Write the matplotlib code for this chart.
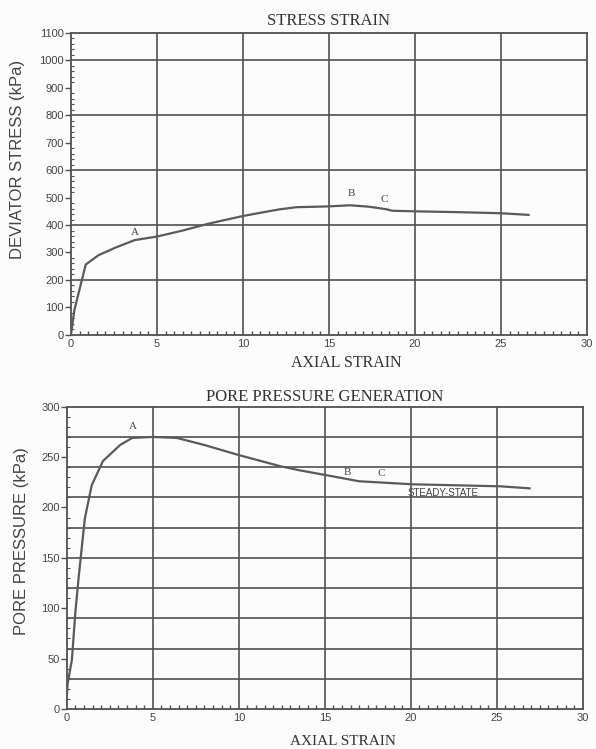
import matplotlib
matplotlib.use("Agg")
import matplotlib.pyplot as plt
from matplotlib.ticker import MultipleLocator

# Stress-strain data
strain_s = [0, 0.2, 0.86, 1.6, 2.6, 3.7, 5.0, 6.5, 8.0, 10.0, 12.1, 13.1, 15.0, 16.2, 17.3, 18.3, 18.7, 20.0, 22.5, 25.0, 26.6]
stress = [0, 90, 256, 290, 318, 345, 358, 380, 405, 433, 457, 465, 468, 472, 467, 458, 452, 450, 447, 443, 437]
labels_s = ["A", "B", "C"]
label_s_x = [3.7, 16.3, 18.2]
label_s_y = [356, 497, 478]

# Pore pressure data
strain_p = [0, 0.05, 0.3, 0.5, 0.7, 1.05, 1.45, 2.1, 3.1, 3.8, 5.0, 6.4, 8.0, 10.0, 12.4, 13.5, 15.1, 17.0, 20.1, 25.2, 26.9]
pore = [10, 25, 49, 96, 132, 189, 222, 246, 262, 269, 270, 269, 262, 252, 241, 237, 232, 226, 223, 221, 219]
labels_p = ["A", "B", "C"]
label_p_x = [3.85, 16.3, 18.3]
label_p_y = [276, 230, 229]

serif = "Liberation Serif"
sans = "Liberation Sans"
lc = "#5a5a5a"
gc = "#505050"

fig = plt.figure(figsize=(5.96, 7.49), dpi=100)
fig.patch.set_facecolor("#fcfcfc")

def style(ax):
    ax.set_facecolor("#fcfcfc")
    for s in ax.spines.values():
        s.set_color(gc)
        s.set_linewidth(1.3)
    ax.xaxis.set_major_locator(MultipleLocator(5))
    ax.xaxis.set_minor_locator(MultipleLocator(0.5))
    ax.tick_params(axis="x", which="both", direction="in", colors=gc, labelcolor="#444", labelsize=8, pad=3)
    ax.tick_params(axis="x", which="major", length=0)
    ax.tick_params(axis="x", which="minor", length=3, width=1)
    ax.tick_params(axis="y", which="major", direction="out", length=4, width=1, colors=gc, labelcolor="#444", labelsize=8, pad=1)
    ax.tick_params(axis="y", which="minor", direction="in", length=2.5, width=0.8, colors=gc)
    for lab in ax.get_xticklabels() + ax.get_yticklabels():
        lab.set_fontfamily(sans)

# Top chart
ax1 = fig.add_axes([0.119, 0.553, 0.866, 0.403])
ax1.plot(strain_s, stress, color=lc, lw=1.6, zorder=3)
ax1.set_xlim(0, 30)
ax1.set_ylim(0, 1100)
ax1.yaxis.set_major_locator(MultipleLocator(100))
ax1.yaxis.set_minor_locator(MultipleLocator(20))
for v in [5, 10, 15, 20, 25]:
    ax1.axvline(v, color=gc, lw=1.2, zorder=1)
for v in [200, 400, 600, 800, 1000]:
    ax1.axhline(v, color=gc, lw=1.2, zorder=1)
style(ax1)
for t, x, y in zip(labels_s, label_s_x, label_s_y):
    ax1.text(x, y, t, fontsize=8, family=serif, color="#444", ha="center", va="bottom")
ax1.set_title("STRESS STRAIN", family=serif, fontsize=12, color="#333", pad=6)
ax1.set_xlabel("AXIAL STRAIN", family=serif, fontsize=11.5, color="#333")
ax1.xaxis.set_label_coords(0.533, -0.068)
ax1.set_ylabel("DEVIATOR STRESS (kPa)", family=sans, fontsize=12, color="#444")
ax1.yaxis.set_label_coords(-0.089, 0.58)

# Bottom chart
ax2 = fig.add_axes([0.112, 0.0534, 0.866, 0.4036])
ax2.plot(strain_p, pore, color=lc, lw=1.6, zorder=3)
ax2.set_xlim(0, 30)
ax2.set_ylim(0, 300)
ax2.yaxis.set_major_locator(MultipleLocator(50))
ax2.yaxis.set_minor_locator(MultipleLocator(10))
for v in [5, 10, 15, 20, 25]:
    ax2.axvline(v, color=gc, lw=1.2, zorder=1)
for v in range(30, 300, 30):
    ax2.axhline(v, color=gc, lw=1.2, zorder=1)
style(ax2)
for t, x, y in zip(labels_p, label_p_x, label_p_y):
    ax2.text(x, y, t, fontsize=8, family=serif, color="#444", ha="center", va="bottom")
ax2.text(19.8, 214, "STEADY-STATE", fontsize=7, family=sans, color="#444", ha="left", va="center", zorder=4)
ax2.set_title("PORE PRESSURE GENERATION", family=serif, fontsize=12, color="#333", pad=4)
ax2.set_xlabel("AXIAL STRAIN", family=serif, fontsize=11, color="#333")
ax2.xaxis.set_label_coords(0.535, -0.086)
ax2.set_ylabel("PORE PRESSURE (kPa)", family=sans, fontsize=12, color="#444")
ax2.yaxis.set_label_coords(-0.074, 0.556)

fig.savefig("out.png", dpi=100, facecolor=fig.get_facecolor())
